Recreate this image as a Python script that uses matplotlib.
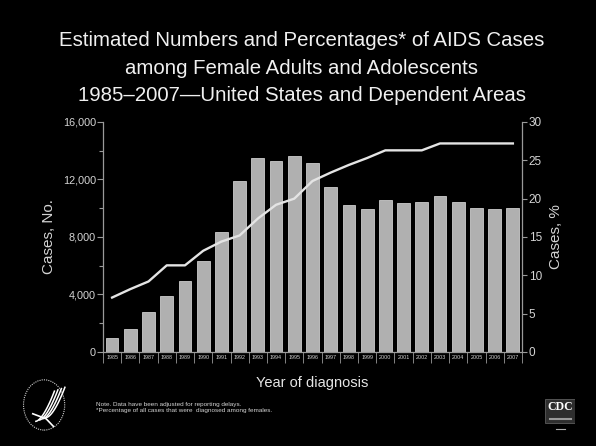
import matplotlib
matplotlib.use("Agg")
import matplotlib.pyplot as plt
import numpy as np
from matplotlib.ticker import MultipleLocator, FuncFormatter
from matplotlib.patches import Circle, Rectangle

plt.rcParams['font.family'] = ['Liberation Sans', 'DejaVu Sans']

years = [str(y) for y in range(1985, 2008)]
cases = [950, 1600, 2800, 3870, 4940, 6300, 8320, 11920, 13470, 13310, 13610,
         13170, 11480, 10200, 9920, 10550, 10390, 10430, 10870, 10430, 9990,
         9920, 9990]
percent = [7.1, 8.2, 9.2, 11.3, 11.3, 13.2, 14.4, 15.2, 17.4, 19.2, 20.0,
           22.3, 23.4, 24.4, 25.3, 26.3, 26.3, 26.3, 27.2, 27.2, 27.2, 27.2, 27.2]

title = ("Estimated Numbers and Percentages* of AIDS Cases\n"
         "among Female Adults and Adolescents\n"
         "1985\u20132007\u2014United States and Dependent Areas")
notes = ("Note. Data have been adjusted for reporting delays.\n"
         "*Percentage of all cases that were  diagnosed among females.")

BG = "black"
AXC = "#9a9a9a"
TXT = "#d4d4d4"

fig = plt.figure(figsize=(5.96, 4.46), dpi=100, facecolor=BG)
ax = fig.add_axes([0.1728, 0.2108, 0.703, 0.5157])
ax.set_facecolor(BG)

x = np.arange(len(years))
ax.bar(x, cases, width=0.7, color="#b0b0b0", edgecolor="#cccccc", linewidth=0.6, zorder=2)
ax.set_xlim(-0.5, len(years) - 0.5)
ax.set_ylim(0, 16000)
ax.yaxis.set_major_locator(MultipleLocator(4000))
ax.yaxis.set_minor_locator(MultipleLocator(2000))
ax.yaxis.set_major_formatter(FuncFormatter(lambda v, p: f"{int(v):,}"))
ax.tick_params(axis='y', which='major', colors=AXC, labelcolor=TXT, labelsize=7.8,
               length=4, width=0.8, pad=1)
ax.tick_params(axis='y', which='minor', colors=AXC, length=3, width=0.8)

# year labels sit in boxes formed by separator ticks at category edges
ax.set_xticks(x)
ax.set_xticklabels(years)
ax.tick_params(axis='x', which='major', length=0, labelsize=3.9, labelcolor=TXT, pad=2.5)
ax.set_xticks(np.arange(-0.5, len(years)), minor=True)
ax.tick_params(axis='x', which='minor', length=8, width=0.6, colors=AXC)

for s in ['top', 'right']:
    ax.spines[s].set_visible(False)
for s in ['left', 'bottom']:
    ax.spines[s].set_color(AXC)
    ax.spines[s].set_linewidth(0.9)

ax2 = ax.twinx()
ax2.plot(x, percent, color="#e4e4e4", linewidth=1.7, zorder=3)
ax2.set_ylim(0, 30)
ax2.yaxis.set_major_locator(MultipleLocator(5))
ax2.tick_params(axis='y', colors=AXC, labelcolor=TXT, labelsize=8.5, length=3.5,
                width=0.8, pad=1.5)
for s in ['top', 'left', 'bottom']:
    ax2.spines[s].set_visible(False)
ax2.spines['right'].set_color(AXC)
ax2.spines['right'].set_linewidth(0.9)

ax.set_ylabel("Cases, No.", color=TXT, fontsize=11, labelpad=5)
ax2.set_ylabel("Cases, %", color=TXT, fontsize=11, labelpad=5)
ax.set_xlabel("Year of diagnosis", color="#e6e6e6", fontsize=10.5, labelpad=6)

fig.text(0.506, 0.93, title, ha='center', va='top', color="#f0f0f0",
         fontsize=14.7, linespacing=1.57)

fig.text(0.161, 0.0865, notes, ha='left', va='center', color=TXT,
         fontsize=4.6, linespacing=1.1)

# HHS emblem: ring and stylised eagle
lax = fig.add_axes([0.036, 0.03, 0.076, 0.124])
lax.set_xlim(-1.1, 1.1)
lax.set_ylim(-1.1, 1.1)
lax.axis('off')
lax.add_patch(Circle((0, 0), 1.0, fill=False, edgecolor="#cfcfcf", linewidth=0.8,
                     linestyle=(0, (1, 1))))
t = np.linspace(0, 1, 30)
for k in range(4):
    off = k * 0.17
    xs = -0.15 + off + 0.9 * t
    ys = -0.55 + off * 0.3 + 1.2 * t ** 1.6
    lax.plot(xs - 0.25, ys - 0.1, color="white", linewidth=1.1)
lax.plot([-0.55, 0.1, 0.45], [-0.35, -0.55, -0.85], color="white", linewidth=1.2)

# CDC mark
cax = fig.add_axes([0.915, 0.03, 0.05, 0.075])
cax.set_xlim(0, 1)
cax.set_ylim(0, 1)
cax.axis('off')
cax.add_patch(Rectangle((0.0, 0.28), 1.0, 0.72, facecolor="#2e2e2e",
                        edgecolor="#6a6a6a", linewidth=0.5))
cax.text(0.5, 0.76, "CDC", ha='center', va='center', color="white",
         fontsize=8.5, fontweight='bold', family='Liberation Serif')
cax.plot([0.15, 0.85], [0.42, 0.42], color="#9a9a9a", linewidth=1.5)
cax.plot([0.35, 0.65], [0.1, 0.1], color="#aaaaaa", linewidth=0.8)

fig.savefig("out.png", dpi=100, facecolor=BG)
